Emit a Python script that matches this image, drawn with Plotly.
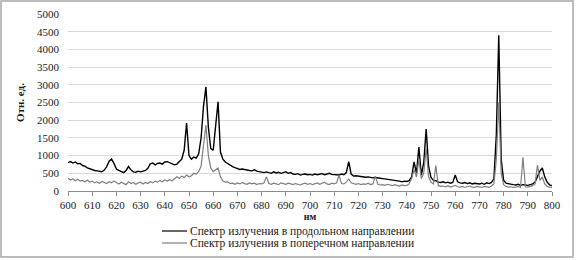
import plotly.graph_objects as go

wavelength = list(range(600, 801))

longitudinal = [
    800, 830, 790, 820, 770, 780, 720, 700, 650, 620,
    600, 580, 570, 560, 545, 590, 690, 840, 900, 780,
    620, 580, 540, 520, 580, 690, 600, 540, 530, 560,
    540, 555, 580, 640, 770, 790, 740, 780, 790, 760,
    820, 830, 800, 780, 740, 760, 820, 900, 1150, 1920,
    1000, 900, 960, 930, 1050, 1500, 2400, 2940, 1800, 1200,
    1150, 1800, 2520, 1100, 900, 820, 770, 720, 690, 660,
    630, 610, 620, 600, 590, 580, 570, 600, 560, 540,
    530, 520, 540, 520, 500, 540, 510, 530, 500, 520,
    545, 500, 520, 480, 470, 490, 450, 470, 480, 460,
    470, 450, 480, 460, 470, 490, 460, 480, 500, 470,
    460, 470, 450, 480, 460, 520, 830, 480, 420, 430,
    420, 400, 410, 390, 400, 380, 370, 380, 360, 360,
    350, 340, 330, 340, 320, 300, 290, 280, 260, 280,
    270, 290, 400, 820, 500, 1240, 450, 800, 1750, 700,
    380, 300, 290, 250, 240, 260, 230, 250, 220, 240,
    450, 260, 230, 220, 240, 210, 230, 200, 220, 210,
    200, 220, 190, 230, 210, 240, 350, 1600, 4400, 900,
    300, 220, 200, 190, 180, 170, 190, 160, 180, 170,
    160, 180, 200, 250, 420, 560, 650, 400, 250, 170,
    150,
]

transverse = [
    360, 310, 340, 290, 330, 280, 300, 260, 310, 250,
    280, 230, 260, 220, 270, 240, 210, 260, 230, 280,
    240, 200, 250, 220, 180, 260, 210, 240, 190, 230,
    250, 200, 240, 210, 260, 230, 280, 250, 300, 260,
    310, 280, 320, 290, 350, 400, 360, 420, 380, 450,
    400, 430, 500, 480, 550, 700, 1300, 1860, 1000, 650,
    550, 600, 650, 400, 280, 250, 260, 210, 220, 190,
    230, 200, 240, 210, 190, 230, 200, 220, 180, 210,
    200, 230, 400, 210, 190, 220, 200, 180, 230, 210,
    190, 220, 200, 180, 210, 190, 170, 200, 220, 190,
    210, 180, 200, 230, 190, 210, 250, 200, 180, 220,
    200, 230, 450, 210, 200, 250, 340, 230, 200, 190,
    210, 180, 200, 190, 220, 180, 200, 420, 190, 170,
    180, 160, 190, 170, 150, 180, 160, 140, 170, 150,
    160, 200, 350, 600, 400, 900, 350, 500, 1200, 400,
    250, 200, 715, 150, 130, 140, 120, 150, 110, 130,
    160, 120, 110, 130, 100, 120, 140, 110, 100, 130,
    110, 100, 130, 120, 100, 140, 200, 900, 2500, 500,
    180, 130, 110, 120, 100, 110, 130, 100, 950, 120,
    110, 130, 150, 200, 730, 300, 400, 200, 130, 110,
    100,
]

x_ticks = list(range(600, 801, 10))
y_ticks = list(range(0, 5001, 500))

series_names = [
    "Спектр излучения в продольном направлении",
    "Спектр излучения в поперечном направлении",
]
series_colors = ["#000000", "#7f7f7f"]
x_title = "нм"
y_title = "Отн. ед."

FONT = "'Liberation Serif', 'Times New Roman', serif"
TXT = "#1a1a1a"

fig = go.Figure()
fig.add_trace(go.Scatter(x=wavelength, y=longitudinal, mode="lines",
                         name=series_names[0],
                         line=dict(color=series_colors[0], width=1.4)))
fig.add_trace(go.Scatter(x=wavelength, y=transverse, mode="lines",
                         name=series_names[1],
                         line=dict(color=series_colors[1], width=1.2)))

# manual legend (paper coords)
shapes = [dict(type="rect", xref="paper", yref="paper",
               x0=-0.1384, x1=1.0434, y0=-0.3729, y1=1.0734,
               line=dict(color="#a6a6a6", width=1.5))]
annotations = []
legend_y = [-0.2260, -0.2938]
for name, col, ly in zip(series_names, series_colors, legend_y):
    shapes.append(dict(type="line", xref="paper", yref="paper",
                       x0=0.1942, x1=0.2459, y0=ly, y1=ly,
                       line=dict(color=col, width=1.2)))
    annotations.append(dict(xref="paper", yref="paper", x=0.2479, y=ly,
                            xanchor="left", yanchor="middle", showarrow=False,
                            text=name, font=dict(family=FONT, size=11.5, color=TXT)))

fig.update_layout(
    width=576, height=260,
    margin=dict(l=68, r=24, t=14, b=69, autoexpand=False),
    paper_bgcolor="white", plot_bgcolor="white",
    font=dict(family=FONT, size=11, color=TXT),
    showlegend=False,
    shapes=shapes,
    annotations=annotations,
)
fig.update_xaxes(range=[600, 800], tickvals=x_ticks, ticktext=[str(v) for v in x_ticks],
                 showgrid=False, zeroline=False, showline=True, linecolor="#8c8c8c",
                 linewidth=1, ticks="outside", ticklen=4, tickcolor="#8c8c8c",
                 tickfont=dict(size=11),
                 title=dict(text="<b>" + x_title + "</b>", font=dict(size=10), standoff=0))
fig.update_yaxes(range=[0, 5000], tickvals=y_ticks, showgrid=True, gridcolor="#d9d9d9",
                 gridwidth=1, zeroline=False, showline=False, ticks="",
                 tickfont=dict(size=11), ticklabelstandoff=8,
                 title=dict(text="<b>" + y_title + "</b>", font=dict(size=11), standoff=10))

fig.write_html("out.html",
               config={"displayModeBar": False},
               post_script="document.body.style.margin='0px';document.body.style.padding='0px';")
